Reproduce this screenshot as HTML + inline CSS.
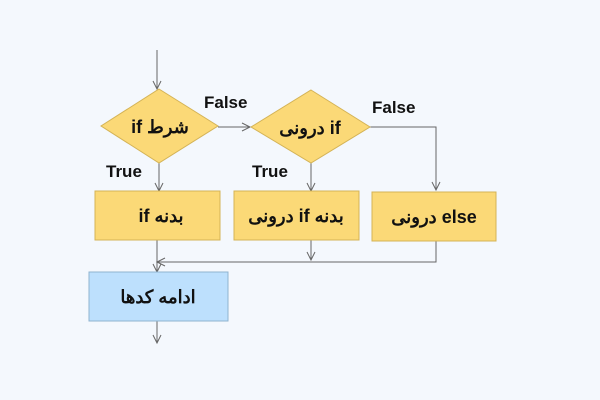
<!DOCTYPE html>
<html><head><meta charset="utf-8"><style>
html,body{margin:0;padding:0;background:#f4f8fd;}
svg{display:block}
text{font-family:"Liberation Sans","Noto Sans CJK SC",sans-serif;font-weight:bold;fill:#111;}
.r{direction:rtl;unicode-bidi:embed;}
</style></head><body>
<svg width="600" height="400" viewBox="0 0 600 400" xmlns="http://www.w3.org/2000/svg">
<rect width="600" height="400" fill="#f4f8fd"/>
<g stroke="#666" stroke-width="1" fill="none">
<line x1="157" y1="50" x2="157" y2="89"/><polyline points="153,81 157,89 161,81"/>
<line x1="218" y1="127" x2="250" y2="127"/><polyline points="242,123 250,127 242,131"/>
<polyline points="370,127 436,127 436,190"/><polyline points="432,182 436,190 440,182"/>
<line x1="159" y1="163" x2="159" y2="191"/><polyline points="155,183 159,191 163,183"/>
<line x1="311" y1="163" x2="311" y2="191"/><polyline points="307,183 311,191 315,183"/>
<line x1="157" y1="240" x2="157" y2="272"/><polyline points="153,264 157,272 161,264"/>
<line x1="311" y1="240" x2="311" y2="260"/><polyline points="307,252 311,260 315,252"/>
<polyline points="436,241 436,262 157,262"/><polyline points="165,258 157,262 165,266"/>
<line x1="157" y1="321" x2="157" y2="343"/><polyline points="153,335 157,343 161,335"/>
</g>
<g fill="#fbd977" stroke="#d4b356" stroke-width="1">
<polygon points="159,89 218,126 159,163 101,126"/>
<polygon points="311,90 370,127 311,163 251,127"/>
<rect x="95" y="191" width="125" height="49"/>
<rect x="234" y="191" width="125" height="49"/>
<rect x="372" y="192" width="124" height="49"/>
</g>
<rect x="89" y="272" width="139" height="49" fill="#bde0fd" stroke="#8fb3d0"/>
<g font-size="18" text-anchor="middle">
<text class="r" direction="rtl" x="160" y="133">شرط if</text>
<text class="r" direction="rtl" x="310" y="134">if درونی</text>
<text class="r" direction="rtl" x="161" y="222">بدنه  if</text>
<text class="r" direction="rtl" x="296" y="222">بدنه if درونی</text>
<text class="r" direction="rtl" x="434" y="223">else درونی</text>
<text class="r" direction="rtl" x="158" y="303">ادامه کدها</text>
</g>
<g font-size="17">
<text x="204" y="108">False</text>
<text x="372" y="113">False</text>
<text x="106" y="177">True</text>
<text x="252" y="177">True</text>
</g>
</svg>
</body></html>
